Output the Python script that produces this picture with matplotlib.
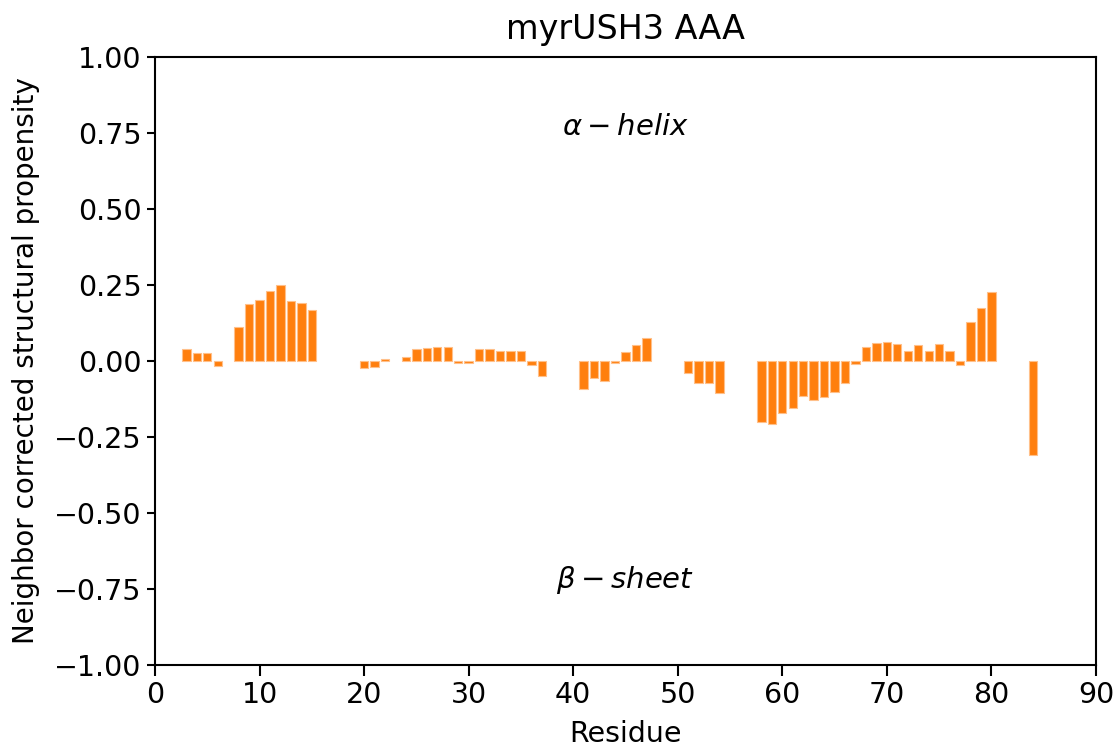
import matplotlib
matplotlib.use("Agg")
import matplotlib.pyplot as plt

residues = list(range(3, 16)) + list(range(20, 23)) + list(range(24, 38)) + \
    list(range(41, 48)) + list(range(51, 55)) + list(range(58, 81)) + [84]
values = [0.041, 0.025, 0.025, -0.016, None, 0.113, 0.186, 0.200, 0.230, 0.249, 0.197, 0.190, 0.169,
          -0.024, -0.019, 0.005,
          0.013, 0.041, 0.043, 0.046, 0.046, -0.008, -0.008, 0.041, 0.041, 0.033, 0.033, 0.033, -0.013, -0.049,
          -0.093, -0.055, -0.066, -0.008, 0.030, 0.053, 0.075,
          -0.040, -0.073, -0.073, -0.106,
          -0.200, -0.206, -0.172, -0.154, -0.115, -0.128, -0.118, -0.101, -0.073, -0.011,
          0.046, 0.058, 0.0625, 0.055, 0.033, 0.053, 0.033, 0.055, 0.032, -0.013, 0.129, 0.173, 0.227,
          -0.310]
ytick_vals = [-1, -0.75, -0.5, -0.25, 0, 0.25, 0.5, 0.75, 1]
ytick_labels = ['\u22121.00', '\u22120.75', '\u22120.50', '\u22120.25', '0.00', '0.25', '0.50', '0.75', '1.00']
xtick_vals = list(range(0, 91, 10))

pairs = [(r, v) for r, v in zip(residues, values) if v is not None]
xs = [p[0] for p in pairs]
ys = [p[1] for p in pairs]

fig = plt.figure(figsize=(11.18, 7.49), dpi=100)
ax = fig.add_axes([0.1386, 0.1121, 0.8417, 0.8118])
ax.bar(xs, ys, width=0.8, color='#ff7f0e', edgecolor='#ffc08a', linewidth=0.8)
ax.set_xlim(0, 90)
ax.set_ylim(-1, 1)
ax.set_yticks(ytick_vals)
ax.set_yticklabels(ytick_labels, fontsize=20.5)
ax.set_xticks(xtick_vals)
ax.set_xticklabels([str(v) for v in xtick_vals], fontsize=20.5)
ax.tick_params(axis='y', length=6, width=1.5)
ax.tick_params(axis='x', length=8, width=1.5)
for s in ax.spines.values():
    s.set_linewidth(1.5)
ax.set_xlabel('Residue', fontsize=20.5, labelpad=8)
ax.set_ylabel('Neighbor corrected structural propensity', fontsize=20, labelpad=10)
ax.set_title('myrUSH3 AAA', fontsize=24, pad=13)
ax.text(45, 0.77, r'$\alpha-helix$', fontsize=21, ha='center', va='center')
ax.text(45, -0.72, r'$\beta-sheet$', fontsize=21, ha='center', va='center')
fig.savefig('out.png', dpi=100)
